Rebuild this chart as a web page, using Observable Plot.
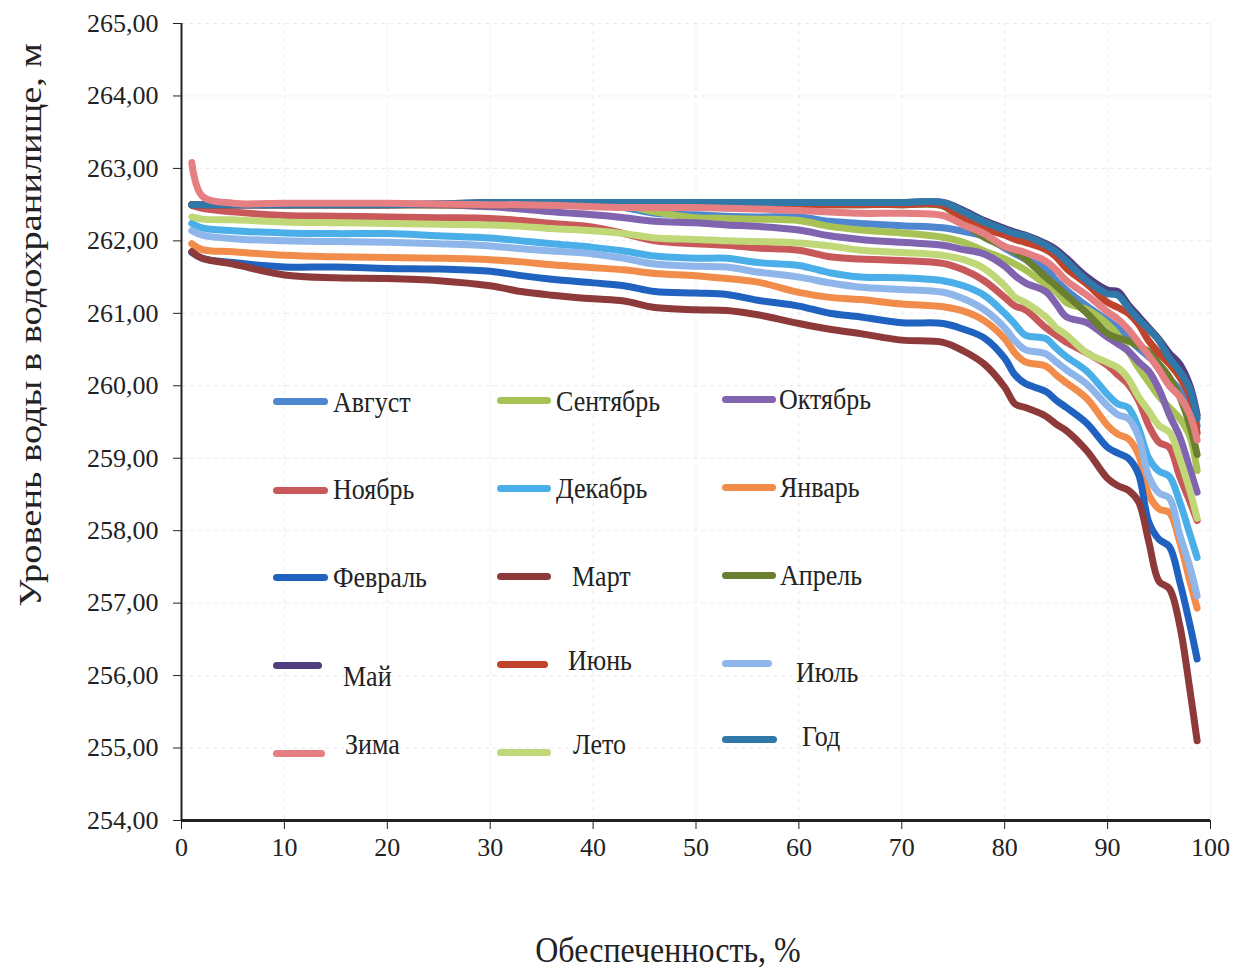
<!DOCTYPE html>
<html>
<head>
<meta charset="utf-8">
<script src="https://cdn.jsdelivr.net/npm/d3@7"></script>
<script src="https://cdn.jsdelivr.net/npm/@observablehq/plot@0.6"></script>
<style>
  body { margin: 0; background: #fff; }
  #wrap { position: relative; width: 1245px; height: 974px; font-family: "Liberation Serif", "Times New Roman", serif; color: #222; overflow: hidden; }
  #chart { position: absolute; left: 0; top: 0; }
  .lg-sw { position: absolute; height: 7px; border-radius: 4px; }
  .lg-tx { position: absolute; font-size: 26px; line-height: 1; white-space: nowrap; transform: translateY(-50%) scaleY(1.1); transform-origin: left center; }
  #ytitle { position: absolute; left: 30px; top: 325px; font-size: 32px; line-height: 1; white-space: nowrap; transform: translate(-50%, -50%) rotate(-90deg) scaleX(1.2); }
  #xtitle { position: absolute; left: 668px; top: 951px; font-size: 32px; line-height: 1.1; white-space: nowrap; transform: translate(-50%, -50%) scaleY(1.1); }
</style>
</head>
<body>
<div id="wrap">
  <div id="chart"></div>
  <div id="ytitle">Уровень воды в водохранилище, м</div>
  <div id="xtitle">Обеспеченность, %</div>
</div>
<script>
// ---- data ----
const X = [1, 2, 5, 10, 15, 20, 25, 30, 33, 36, 40, 43, 46, 50, 53, 56, 60, 63, 66, 70, 74, 76, 78, 80, 81, 82, 84, 85, 86, 88, 90, 91, 92, 93, 94, 95, 96, 97, 98, 98.7];

const avgust   = [262.5, 262.5, 262.5, 262.5, 262.5, 262.5, 262.5, 262.5, 262.5, 262.5, 262.5, 262.46, 262.38, 262.36, 262.34, 262.33, 262.33, 262.27, 262.24, 262.21, 262.18, 262.13, 262.06, 261.9, 261.82, 261.75, 261.62, 261.45, 261.32, 261.1, 260.9, 260.8, 260.65, 260.52, 260.4, 260.28, 260.1, 259.95, 259.8, 259.45];
const sentyabr = [262.5, 262.5, 262.5, 262.5, 262.5, 262.5, 262.5, 262.5, 262.5, 262.5, 262.5, 262.49, 262.4, 262.32, 262.31, 262.3, 262.28, 262.2, 262.15, 262.11, 262.05, 261.98, 261.86, 261.75, 261.68, 261.6, 261.4, 261.3, 261.15, 261.05, 260.85, 260.7, 260.48, 260.25, 260.05, 259.85, 259.7, 259.55, 259.3, 258.83];
const oktyabr  = [262.5, 262.5, 262.5, 262.5, 262.5, 262.5, 262.5, 262.47, 262.44, 262.4, 262.36, 262.32, 262.27, 262.25, 262.22, 262.2, 262.15, 262.07, 262.02, 261.98, 261.94, 261.88, 261.82, 261.65, 261.52, 261.42, 261.3, 261.13, 260.95, 260.87, 260.67, 260.58, 260.48, 260.33, 260.2, 259.95, 259.6, 259.3, 258.85, 258.53];
const noyabr   = [262.49, 262.45, 262.4, 262.35, 262.34, 262.33, 262.32, 262.31, 262.28, 262.24, 262.19, 262.1, 262.0, 261.96, 261.94, 261.9, 261.87, 261.78, 261.75, 261.73, 261.69, 261.6, 261.45, 261.22, 261.1, 261.05, 260.8, 260.7, 260.6, 260.45, 260.28, 260.15, 260.02, 259.8, 259.45, 259.22, 259.15, 258.75, 258.4, 258.14];
const dekabr   = [262.24, 262.18, 262.14, 262.11, 262.1, 262.1, 262.07, 262.04, 262.0, 261.96, 261.91, 261.86, 261.79, 261.76, 261.76, 261.7, 261.66, 261.56, 261.5, 261.49, 261.45, 261.38, 261.25, 261.0, 260.85, 260.7, 260.65, 260.52, 260.4, 260.2, 259.88, 259.75, 259.7, 259.42, 259.0, 258.82, 258.75, 258.4, 257.95, 257.63];
const yanvar   = [261.96, 261.88, 261.85, 261.8, 261.78, 261.77, 261.76, 261.74, 261.71, 261.67, 261.63, 261.6, 261.55, 261.52, 261.48, 261.43, 261.29, 261.22, 261.19, 261.13, 261.09, 261.03, 260.9, 260.65, 260.45, 260.33, 260.27, 260.15, 260.04, 259.82, 259.45, 259.33, 259.27, 259.05, 258.5, 258.3, 258.25, 257.85, 257.3, 256.93];
const fevral   = [261.84, 261.76, 261.7, 261.64, 261.64, 261.62, 261.61, 261.58, 261.52, 261.47, 261.42, 261.38, 261.3, 261.28, 261.26, 261.18, 261.1, 261.0, 260.95, 260.87, 260.86, 260.78, 260.66, 260.38, 260.15, 260.03, 259.92, 259.8, 259.7, 259.48, 259.15, 259.07, 259.0, 258.78, 258.12, 257.88, 257.78, 257.3, 256.7, 256.23];
const mart     = [261.85, 261.76, 261.68, 261.53, 261.49, 261.48, 261.45, 261.38, 261.3, 261.25, 261.2, 261.17, 261.08, 261.05, 261.04, 260.98, 260.86, 260.78, 260.72, 260.63, 260.6, 260.48, 260.3, 259.98, 259.75, 259.7, 259.58, 259.47, 259.38, 259.1, 258.72, 258.62, 258.56, 258.4, 257.85, 257.3, 257.2, 256.7, 255.8, 255.1];
const aprel    = [262.5, 262.5, 262.5, 262.5, 262.5, 262.5, 262.5, 262.5, 262.5, 262.5, 262.5, 262.5, 262.5, 262.5, 262.5, 262.5, 262.5, 262.5, 262.5, 262.5, 262.48, 262.25, 262.05, 261.92, 261.85, 261.75, 261.5, 261.38, 261.25, 261.0, 260.72, 260.66, 260.62, 260.55, 260.47, 260.3, 260.12, 259.85, 259.45, 259.05];
const may      = [262.5, 262.5, 262.5, 262.5, 262.5, 262.5, 262.51, 262.53, 262.53, 262.53, 262.53, 262.53, 262.53, 262.53, 262.53, 262.53, 262.53, 262.53, 262.53, 262.53, 262.53, 262.42, 262.28, 262.17, 262.12, 262.08, 261.96, 261.88, 261.76, 261.5, 261.32, 261.3, 261.12, 260.96, 260.8, 260.64, 260.45, 260.3, 260.0, 259.6];
const iyun     = [262.5, 262.5, 262.5, 262.5, 262.5, 262.5, 262.5, 262.5, 262.5, 262.5, 262.5, 262.5, 262.5, 262.5, 262.5, 262.5, 262.5, 262.5, 262.5, 262.5, 262.49, 262.3, 262.17, 262.08, 262.02, 261.98, 261.88, 261.78, 261.62, 261.4, 261.15, 261.08, 261.0, 260.85, 260.62, 260.45, 260.3, 260.12, 259.85, 259.35];
const iyul     = [262.14, 262.08, 262.03, 262.0, 261.99, 261.98, 261.96, 261.93, 261.89, 261.86, 261.82, 261.76, 261.68, 261.65, 261.64, 261.57, 261.5, 261.42, 261.36, 261.33, 261.29, 261.2, 261.05, 260.8, 260.62, 260.5, 260.44, 260.33, 260.22, 260.02, 259.72, 259.6, 259.55, 259.3, 258.75, 258.52, 258.45, 257.95, 257.5, 257.1];
const zima     = [263.08, 262.62, 262.52, 262.52, 262.52, 262.52, 262.51, 262.5, 262.5, 262.49, 262.47, 262.46, 262.46, 262.46, 262.45, 262.44, 262.42, 262.4, 262.38, 262.38, 262.35, 262.22, 262.1, 261.92, 261.88, 261.84, 261.72, 261.6, 261.45, 261.25, 261.02, 260.92, 260.78, 260.6, 260.42, 260.22, 260.0, 259.85, 259.6, 259.25];
const leto     = [262.33, 262.3, 262.29, 262.26, 262.25, 262.24, 262.23, 262.22, 262.2, 262.17, 262.14, 262.1, 262.04, 262.02, 262.0, 261.99, 261.97, 261.93, 261.87, 261.84, 261.8, 261.74, 261.62, 261.38, 261.22, 261.15, 260.95, 260.8, 260.7, 260.45, 260.32, 260.25, 260.1, 259.85, 259.65, 259.45, 259.36, 259.0, 258.55, 258.17];
const god      = [262.5, 262.5, 262.5, 262.5, 262.5, 262.5, 262.51, 262.53, 262.53, 262.53, 262.53, 262.53, 262.53, 262.53, 262.53, 262.53, 262.53, 262.53, 262.53, 262.53, 262.53, 262.4, 262.26, 262.15, 262.1, 262.07, 261.94, 261.85, 261.72, 261.45, 261.27, 261.25, 261.08, 260.92, 260.78, 260.62, 260.38, 260.2, 259.95, 259.55];

const seriesNames  = ["Август", "Сентябрь", "Октябрь", "Ноябрь", "Декабрь", "Январь", "Февраль", "Март", "Апрель", "Май", "Июнь", "Июль", "Зима", "Лето", "Год"];
const seriesValues = [avgust, sentyabr, oktyabr, noyabr, dekabr, yanvar, fevral, mart, aprel, may, iyun, iyul, zima, leto, god];
const seriesColors = ["#4f86d0", "#a8c256", "#8064b0", "#c9585a", "#4aaee8", "#f28c4b", "#2062c0", "#8e3a3a", "#6b7f30", "#503f7f", "#c2432b", "#8fb6ea", "#e57f82", "#c0d878", "#2f78a8"];
const drawOrder    = ["Август", "Сентябрь", "Октябрь", "Ноябрь", "Декабрь", "Январь", "Февраль", "Март", "Апрель", "Май", "Июнь", "Июль", "Лето", "Год", "Зима"];

const xTicks = [0, 10, 20, 30, 40, 50, 60, 70, 80, 90, 100];
const yTicks = [254, 255, 256, 257, 258, 259, 260, 261, 262, 263, 264, 265];

// legend layout (pixel positions of the legend block inside the chart)
const legendLayout = [
  {name: "Август",   sx: 273, sw: 55, sy: 401, tx: 333, ty: 403},
  {name: "Сентябрь", sx: 497, sw: 54, sy: 400, tx: 556, ty: 402},
  {name: "Октябрь",  sx: 722, sw: 54, sy: 399, tx: 779, ty: 400},
  {name: "Ноябрь",   sx: 273, sw: 55, sy: 490, tx: 333, ty: 490},
  {name: "Декабрь",  sx: 497, sw: 54, sy: 488, tx: 556, ty: 489},
  {name: "Январь",   sx: 722, sw: 54, sy: 487, tx: 780, ty: 488},
  {name: "Февраль",  sx: 273, sw: 55, sy: 577, tx: 333, ty: 578},
  {name: "Март",     sx: 497, sw: 54, sy: 576, tx: 572, ty: 577},
  {name: "Апрель",   sx: 722, sw: 54, sy: 575, tx: 780, ty: 576},
  {name: "Май",      sx: 273, sw: 49, sy: 665, tx: 343, ty: 677},
  {name: "Июнь",     sx: 497, sw: 51, sy: 664, tx: 568, ty: 661},
  {name: "Июль",     sx: 722, sw: 50, sy: 663, tx: 796, ty: 673},
  {name: "Зима",     sx: 273, sw: 52, sy: 753, tx: 345, ty: 745},
  {name: "Лето",     sx: 497, sw: 54, sy: 752, tx: 573, ty: 745},
  {name: "Год",      sx: 722, sw: 55, sy: 739, tx: 802, ty: 737}
];

// ---- build table ----
const rows = [];
seriesNames.forEach((name, k) => {
  const vals = seriesValues[k];
  const n = Math.min(vals.length, X.length);
  for (let i = 0; i < n; i++) rows.push({name, x: X[i], y: vals[i]});
});

const fmt = d => d.toFixed(2).replace(".", ",");

const lineMarks = drawOrder.map(name =>
  Plot.line(rows.filter(r => r.name === name), {
    x: "x", y: "y", stroke: "name", strokeWidth: 7,
    curve: "catmull-rom", strokeLinecap: "round", strokeLinejoin: "round"
  })
);

const chart = Plot.plot({
  width: 1245,
  height: 974,
  marginLeft: 181,
  marginRight: 35,
  marginTop: 23,
  marginBottom: 154,
  style: {fontFamily: "'Liberation Serif', 'Times New Roman', serif", background: "transparent", color: "#222"},
  x: {domain: [0, 100]},
  y: {domain: [254, 265]},
  color: {domain: seriesNames, range: seriesColors},
  marks: [
    Plot.gridX(xTicks, {stroke: "#c3c8dc", strokeOpacity: 0.35, strokeDasharray: "4,4"}),
    Plot.gridY(yTicks, {stroke: "#c3c8dc", strokeOpacity: 0.35, strokeDasharray: "4,4"}),
    ...lineMarks,
    Plot.axisY({ticks: yTicks, tickSize: 8, tickPadding: 15, fontSize: 26, tickFormat: fmt, label: null, stroke: "#222"}),
    Plot.axisX({ticks: xTicks, tickSize: 9, tickPadding: 8, fontSize: 26, tickFormat: d => String(d), label: null, stroke: "#222"}),
    Plot.ruleX([0], {stroke: "#222", strokeWidth: 2}),
    Plot.ruleY([254], {stroke: "#222", strokeWidth: 3})
  ]
});
document.getElementById("chart").appendChild(chart);

// ---- legend (HTML overlay) ----
const colorOf = Object.fromEntries(seriesNames.map((n, i) => [n, seriesColors[i]]));
const wrap = document.getElementById("wrap");
legendLayout.forEach(L => {
  const sw = document.createElement("div");
  sw.className = "lg-sw";
  sw.style.left = L.sx + "px";
  sw.style.top = (L.sy - 3.5) + "px";
  sw.style.width = L.sw + "px";
  sw.style.background = colorOf[L.name];
  wrap.appendChild(sw);
  const tx = document.createElement("div");
  tx.className = "lg-tx";
  tx.style.left = L.tx + "px";
  tx.style.top = L.ty + "px";
  tx.textContent = L.name;
  wrap.appendChild(tx);
});
</script>
</body>
</html>
